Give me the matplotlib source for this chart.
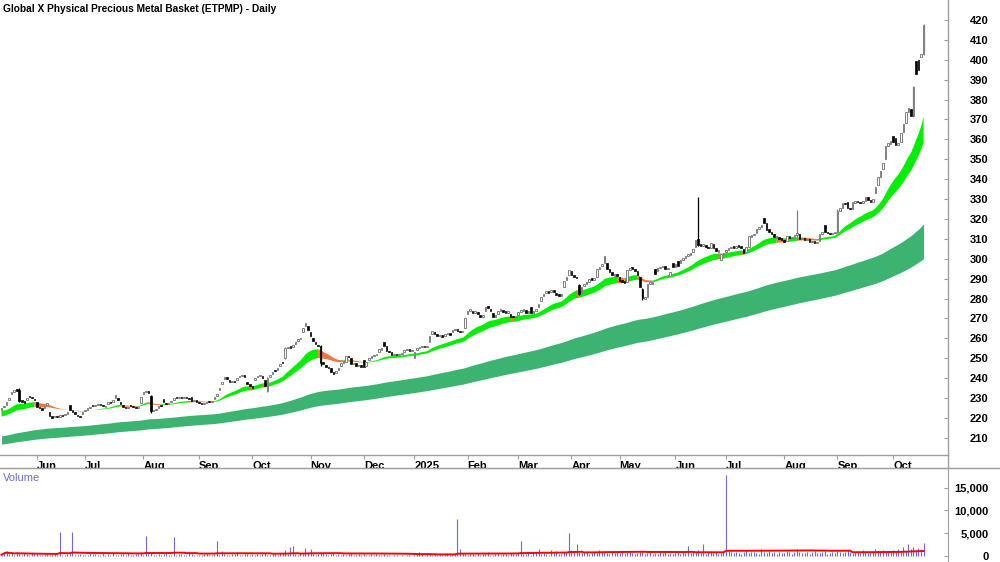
import numpy as np
import pandas as pd
import matplotlib
matplotlib.use("Agg")
import matplotlib.pyplot as plt
from matplotlib.lines import Line2D
from matplotlib.ticker import FuncFormatter

# ---------------- data ----------------
holidays = ["2024-06-10", "2024-12-25", "2024-12-26", "2025-01-01", "2025-01-27",
            "2025-04-18", "2025-04-21", "2025-04-25", "2025-06-09"]
dates = pd.bdate_range("2024-05-14", "2025-10-17", freq="C", holidays=holidays)

closes = [
    # May 2024
    225, 226, 228, 230, 233, 234, 233.5, 228.5, 228, 227.5, 230, 230.5, 230, 229,
    # Jun
    225.5, 225, 224, 226, 227.5, 221, 220, 221, 220.5, 221.5, 221, 222, 223, 224, 223, 222, 221, 220.5, 223,
    # Jul
    224, 225, 225.5, 226, 226.5, 227, 226.5, 226, 226, 228, 227.5, 229, 231.5, 229, 227, 225.5, 225, 225.5,
    226, 225.5, 225, 225.5, 230.5,
    # Aug
    233, 233.5, 232.5, 223.5, 224, 224.5, 226, 226, 228, 227, 227.5, 228.5, 230, 230, 230.5, 230, 230.5, 230,
    229.5, 228.5, 229, 228,
    # Sep
    227.5, 227, 227.5, 228, 228, 228.5, 230.5, 232, 235, 238, 240.5, 239.5, 238, 238.5, 238, 240, 241, 241.5,
    240.5, 237, 236,
    # Oct
    235, 240, 241, 241.5, 240, 236, 240, 241.5, 243, 243.5, 245, 247, 247.5, 255, 255.5, 255, 256.5, 258,
    259.5, 260, 265, 267.5, 264,
    # Nov
    261, 258.5, 257, 256, 247.5, 247, 245.5, 245, 243, 242, 243.5, 245, 247.5, 248.5, 251, 250.5, 247, 247.5,
    246, 246.5, 245.5,
    # Dec
    245.5, 248, 250, 251, 251.5, 252, 254.5, 255, 256, 253.5, 253, 251.5, 252, 251.5, 252, 252.5, 254, 254.5,
    253.5, 254,
    # Jan 2025
    253, 255, 255.5, 256, 255.5, 256, 261, 263.5, 262, 261, 261.5, 260.5, 262, 262.5, 261.5, 264, 264.5,
    263.5, 263, 263.5, 270,
    # Feb
    274, 274.5, 273, 273.5, 272.5, 271, 272, 276, 275.5, 274, 271, 271.5, 274, 274.5, 273.5, 273, 273.5, 271,
    270.5, 271,
    # Mar
    273.5, 274, 274.5, 273, 273.5, 273, 273.5, 275, 277.5, 281, 282.5, 283.5, 283, 284.5, 283.5, 282, 281.5,
    282, 289, 291, 294.5,
    # Apr
    292, 291, 290.5, 282.5, 286, 287.5, 288.5, 290, 289.5, 290.5, 295, 296, 297.5, 301.5, 295, 293.5, 292,
    292.5, 291.5,
    # May
    289, 288.5, 288, 294.5, 295.5, 295, 294, 292, 286, 280.5, 281, 287.5, 288, 288.5, 292.5, 295.5, 296, 296.5,
    295, 295.5, 293.5, 296,
    # Jun
    297.5, 296.5, 299.5, 300.5, 301.5, 302.5, 303, 305, 309.5, 307, 306.5, 307.5, 306, 305.5, 308, 305.5, 304,
    304.5, 302.5, 303,
    # Jul
    304.5, 305.5, 306, 305.5, 306.5, 306, 305.5, 303, 306, 311.5, 312, 312.5, 315, 316, 317, 318, 314.5, 313.5,
    312.5, 311, 311.5, 310, 309.5,
    # Aug
    308.5, 311.5, 310.5, 311, 312, 313, 310, 310.5, 309.5, 310, 308.5, 309, 308, 308.5, 312.5, 313.5, 313.5,
    313, 312.5, 313, 313.5,
    # Sep
    324, 325.5, 328, 327.5, 325.5, 325, 328.5, 329, 328.5, 328, 329, 331, 329.5, 328.5, 330, 336, 341, 344,
    348, 356.5, 358, 359,
    # Oct
    358.5, 357, 358, 363, 367.5, 374, 376, 372, 386.5, 393, 395, 403, 417.5,
]

opens = [
    # May 2024
    224, 225.5, 226.5, 229, 232, 233, 234.5, 234, 229, 228.5, 229, 231, 230.5, 229.5,
    # Jun
    228, 225.5, 225, 225, 226.5, 223, 221, 220.5, 221, 220.5, 221.5, 221.5, 222, 226.5, 224, 223, 221.5, 221, 222,
    # Jul
    223.5, 224, 225, 226.5, 226, 226.5, 227, 226.5, 225.5, 227, 228, 228, 230, 230, 228, 226.5, 225.5, 225,
    226.5, 226, 225.5, 225, 227.5,
    # Aug
    232, 233, 233.5, 231, 223.5, 224, 225, 226.5, 229.5, 227.5, 227, 228, 229, 230.5, 230, 230.5, 230, 230.5,
    230, 230.5, 228.5, 229,
    # Sep
    228, 227.5, 227, 227.5, 228.5, 228, 229.5, 231, 234, 237, 239.5, 240.5, 239, 238, 238.5, 239, 240.5, 241,
    241.5, 238, 237,
    # Oct
    236, 239, 240.5, 241, 241, 239, 233.5, 240.5, 242, 244, 244, 246, 248, 250, 255, 256, 255.5, 257, 258.5,
    259.5, 263, 266, 266,
    # Nov
    263, 260, 258, 256.5, 256, 248, 246.5, 245.5, 245, 243, 242.5, 244, 246, 247.5, 248, 251, 250, 247, 247.5,
    246, 246.5,
    # Dec
    249, 246, 249, 250, 251, 251.5, 253, 254, 258, 256, 253.5, 253, 251.5, 252, 251.5, 252, 253, 254, 254.5, 253.5,
    # Jan 2025
    250, 254, 255, 255.5, 256, 255.5, 258, 262, 263, 262, 261, 261.5, 261, 262, 262.5, 263, 264, 264.5, 263.5,
    263, 265,
    # Feb
    272.5, 274, 274, 273, 273.5, 272, 271, 274, 276, 275, 273, 271, 272.5, 274, 274.5, 273.5, 273, 272.5, 271, 270.5,
    # Mar
    272, 273.5, 274, 274.5, 273, 276, 273, 274, 276, 279, 281.5, 283, 283.5, 283.5, 284.5, 283, 282.5, 281.5,
    286, 289.5, 292,
    # Apr
    294, 292, 291, 287, 283, 286.5, 287.5, 288.5, 290.5, 289.5, 291, 295, 296.5, 298, 298, 295, 293.5, 291.5, 292.5,
    # May
    291, 289.5, 288.5, 288.5, 294.5, 296, 295, 294, 291, 285, 280, 281, 287.5, 287.5, 295, 294, 295.5, 296,
    296.5, 295, 291.5, 298,
    # Jun
    296, 299, 298, 299.5, 300.5, 301.5, 302, 303.5, 306, 310, 307.5, 306.5, 307, 306, 305.5, 307.5, 305.5,
    303.5, 299.5, 302,
    # Jul
    303.5, 304.5, 305.5, 306.5, 305.5, 307, 306.5, 305, 303.5, 306, 311, 312, 313, 315, 316, 320.5, 318, 315,
    313.5, 312.5, 310.5, 311, 310.5,
    # Aug
    309.5, 309, 311.5, 310.5, 311, 312, 312.5, 310, 310.5, 309.5, 310, 308.5, 309, 308, 309, 312.5, 317, 313.5,
    313, 312.5, 313,
    # Sep
    313.5, 324, 325.5, 328, 328.5, 325.5, 325, 328, 329, 328.5, 328, 329, 331, 329.5, 328.5, 333, 337, 341,
    345, 350, 356.5, 357.5,
    # Oct
    361.5, 360.5, 357, 358.5, 363.5, 368, 374, 375.5, 372, 399.5, 400, 401.5, 403,
]

# days with clearly visible wicks (day index, high, low)
wick_days = [7, 59, 105, 112, 126, 228, 253, 275, 314, 330, 360, 364]
wick_highs = [235, 231.5, 240.5, 255.5, 256.5, 287.5, 285.5, 331, 324.5, 325, 387, 418]
wick_lows = [228, 222.5, 233, 249.5, 246, 282, 279.5, 306.5, 309.5, 313, 371.5, 402.5]

volumes = [
    # May 2024
    300, 900, 1100, 400, 600, 200, 800, 500, 300, 700, 400, 200, 600, 500,
    # Jun
    400, 300, 200, 500, 600, 300, 200, 400, 300, 5200, 300, 200, 400, 500, 5200, 300, 200, 400, 300,
    # Jul
    200, 300, 700, 400, 500, 300, 200, 900, 300, 400, 200, 600, 300, 200, 500, 400, 300, 700, 200, 300, 400, 500, 900,
    # Aug
    300, 4500, 400, 700, 300, 200, 500, 300, 400, 600, 300, 200, 4200, 300, 500, 400, 200, 300, 600, 400, 300, 200,
    # Sep
    300, 200, 400, 500, 300, 200, 400, 3300, 300, 1100, 400, 200, 300, 500, 400, 800, 300, 200, 500, 400, 300,
    # Oct
    400, 300, 500, 200, 400, 600, 300, 200, 500, 400, 300, 600, 700, 1300, 500, 1900, 2200, 400, 300, 600,
    500, 1700, 800,
    # Nov
    1600, 500, 300, 400, 900, 600, 400, 300, 500, 700, 300, 400, 200, 500, 300, 400, 600, 300, 200, 400, 300,
    # Dec
    500, 300, 200, 400, 300, 500, 200, 300, 400, 200, 300, 100, 200, 300, 100, 200, 100, 300, 200, 100,
    # Jan 2025
    300, 400, 900, 500, 300, 600, 400, 300, 700, 200, 500, 300, 400, 600, 300, 400, 700, 8100, 1500, 600, 400,
    # Feb
    300, 500, 400, 200, 600, 300, 400, 500, 900, 300, 200, 400, 600, 300, 500, 400, 300, 700, 400, 500,
    # Mar
    600, 3300, 400, 500, 800, 300, 600, 1000, 1500, 400, 700, 500, 300, 1300, 600, 1200, 400, 500, 900, 700, 5000,
    # Apr
    1300, 800, 2700, 1000, 600, 900, 1200, 500, 700, 1000, 600, 1400, 800, 1100, 700, 500, 900, 600, 800,
    # May
    700, 900, 500, 800, 1000, 600, 400, 700, 900, 1200, 500, 600, 800, 400, 700, 500, 900, 600, 1100, 400, 700, 500,
    # Jun
    600, 800, 500, 900, 700, 2300, 600, 800, 1000, 1300, 700, 2700, 500, 900, 1200, 600, 800, 500, 700, 900,
    # Jul
    17800, 1200, 800, 600, 1000, 700, 500, 900, 1300, 600, 800, 1000, 700, 500, 1500, 800, 600, 1100, 700,
    900, 500, 800, 600,
    # Aug
    700, 1200, 800, 500, 900, 1600, 1000, 700, 600, 800, 500, 900, 1100, 700, 600, 800, 1200, 500, 700, 900, 600,
    # Sep
    1200, 900, 700, 1000, 1400, 800, 600, 900, 1100, 700, 1300, 800, 600, 1000, 900, 1500, 1100, 800, 1300,
    1000, 1200, 900,
    # Oct
    1400, 1100, 1600, 900, 2000, 1200, 2700, 1500, 1900, 1300, 1800, 1600, 2900,
]

# moving-average periods and starting values (read at the left edge)
fast_periods = (21, 34)
slow_periods = (144, 233)
fast_seeds = (223.3, 220.5)
slow_seeds = (210.8, 206.7)
vol_ma_period = 50

n = len(dates)
assert len(closes) == n and len(opens) == n and len(volumes) == n, (n, len(closes), len(opens), len(volumes))

# ---------------- helpers ----------------
def ema(values, period, seed):
    a = 2.0 / (period + 1)
    out = np.empty(len(values))
    prev = seed
    for i, val in enumerate(values):
        prev = prev + a * (val - prev)
        out[i] = prev
    return out

c = np.asarray(closes, float)
o = np.asarray(opens, float)
v = np.asarray(volumes, float)
x = np.arange(n)

e_f1 = ema(c, fast_periods[0], fast_seeds[0])
e_f2 = ema(c, fast_periods[1], fast_seeds[1])
e_s1 = ema(c, slow_periods[0], slow_seeds[0])
e_s2 = ema(c, slow_periods[1], slow_seeds[1])

W, H = 1000, 562
fig = plt.figure(figsize=(W / 100, H / 100), dpi=100)
fig.patch.set_facecolor("white")

AX_RIGHT = 948
PRICE_BOTTOM = 455
VOL_TOP = 468
ax = fig.add_axes([0, 1 - PRICE_BOTTOM / H, AX_RIGHT / W, PRICE_BOTTOM / H])
axv = fig.add_axes([0, 0, AX_RIGHT / W, (H - VOL_TOP) / H])

GRAY = "#a0a0a0"
GREEN = "#00ee00"
ORANGE = "#f4763a"
DKGREEN = "#3cb371"
FONT = ["Liberation Sans", "DejaVu Sans"]

# slow band
ax.fill_between(x, e_s1, e_s2, color=DKGREEN, lw=0, zorder=1)

# fast band coloured by slope of fast EMA
rising = np.r_[True, np.diff(e_f1) >= 0]
g_mask = rising | np.r_[rising[1:], rising[-1]]
o_mask = (~rising) | np.r_[~rising[1:], ~rising[-1]]
ax.fill_between(x, e_f1, e_f2, where=g_mask, color=GREEN, lw=0, zorder=2)
ax.fill_between(x, e_f1, e_f2, where=o_mask, color=ORANGE, lw=0, zorder=2)

# candles
up = c >= o
body_lo = np.minimum(o, c)
body_h = np.maximum(np.abs(c - o), 0.6)
ax.bar(x[~up], body_h[~up], bottom=body_lo[~up], width=0.62, color="black",
       edgecolor="black", linewidth=0.5, zorder=4)
ax.bar(x[up], body_h[up], bottom=body_lo[up], width=0.62, color="white",
       edgecolor="#808080", linewidth=0.7, zorder=4)
wd = np.asarray(wick_days)
ax.vlines(wd, wick_lows, wick_highs, colors=["#808080" if up[d] else "black" for d in wd],
          linewidth=0.9, zorder=3)

ax.set_xlim(-0.6, (AX_RIGHT - 1.55) / 2.533)
ax.set_ylim(201.4, 430.05)

# x ticks at month starts
month_first = []
labels = []
prev = None
for i, d in enumerate(dates):
    key = (d.year, d.month)
    if key != prev:
        if i > 5:
            month_first.append(i)
            labels.append(str(d.year) if d.month == 1 else d.strftime("%b"))
        prev = key
ax.set_xticks(month_first)
ax.set_xticklabels(labels, ha="left", fontsize=8, fontweight="bold", family=FONT)
ax.tick_params(axis="x", direction="out", length=3, color=GRAY, pad=1)

ax.yaxis.tick_right()
ax.set_yticks(np.arange(210, 421, 10))
ax.tick_params(axis="y", direction="in", length=3, color=GRAY, pad=29)
for t in ax.get_yticklabels():
    t.set_ha("right")
    t.set_fontsize(8)
    t.set_fontweight("bold")
    t.set_family(FONT)

for s in ["top", "left"]:
    ax.spines[s].set_visible(False)
for s in ["bottom", "right"]:
    ax.spines[s].set_color(GRAY)
    ax.spines[s].set_linewidth(1.0)

fig.text(3 / W, 1 - 9 / H, "Global X Physical Precious Metal Basket (ETPMP) - Daily",
         ha="left", va="center", fontsize=7.3, fontweight="bold", family=FONT)

# ---------------- volume ----------------
axv.vlines(x, 0, v, colors="#6b6bd6", linewidth=0.8, zorder=2)
vma = pd.Series(v).rolling(vol_ma_period, min_periods=1).mean().to_numpy()
axv.plot(x, vma, color="#ff0000", lw=1.4, zorder=3)
axv.set_xlim(ax.get_xlim())
axv.set_ylim(-1300, 19300)
axv.set_xticks([])
axv.yaxis.tick_right()
axv.set_yticks([0, 5000, 10000, 15000])
axv.yaxis.set_major_formatter(FuncFormatter(lambda val, p: f"{int(val):,}"))
axv.tick_params(axis="y", direction="in", length=3, color=GRAY, pad=29)
for t in axv.get_yticklabels():
    t.set_ha("right")
    t.set_fontsize(8)
    t.set_fontweight("bold")
    t.set_family(FONT)
for s in ["bottom", "left"]:
    axv.spines[s].set_visible(False)
for s in ["top", "right"]:
    axv.spines[s].set_color(GRAY)
axv.text(3 / AX_RIGHT, 1 - 10 / (H - VOL_TOP), "Volume", transform=axv.transAxes,
         ha="left", va="center", fontsize=8, color="#6f6fc8", family=FONT)

# separators
fig.add_artist(Line2D([0, 1], [(H - VOL_TOP) / H] * 2, color=GRAY, lw=1.0))
fig.add_artist(Line2D([AX_RIGHT / W] * 2, [(H - VOL_TOP) / H, 1 - PRICE_BOTTOM / H], color=GRAY, lw=1.0))

fig.savefig("out.png", dpi=100, facecolor="white")
